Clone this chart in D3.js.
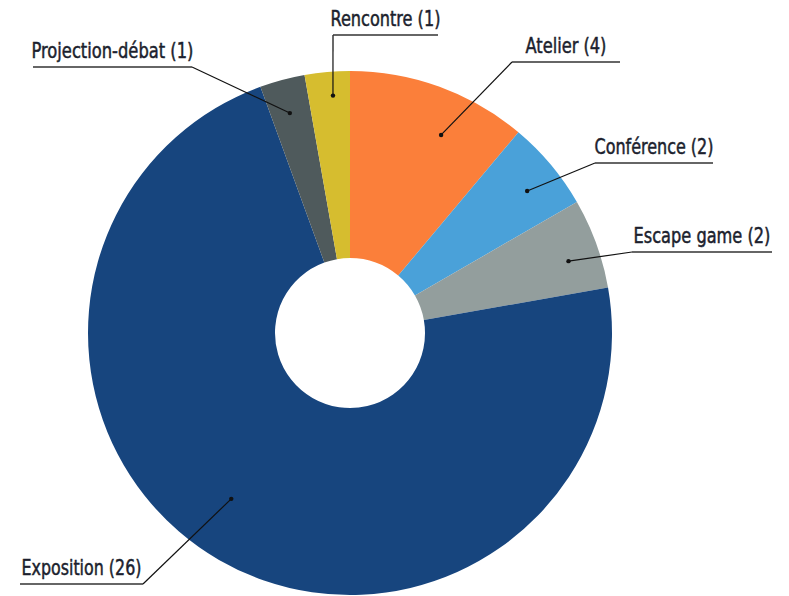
<!DOCTYPE html>
<html>
<head>
<meta charset="utf-8">
<script src="https://cdn.jsdelivr.net/npm/d3@7"></script>
<style>
body { margin: 0; background: #fff; }
text { font-family: "DejaVu Sans Condensed", "Liberation Sans Narrow", sans-serif; }
</style>
</head>
<body>
<svg id="chart"></svg>
<script>
// données
var categories = ["Atelier", "Conférence", "Escape game", "Exposition", "Projection-débat", "Rencontre"]
var values = [4, 2, 2, 26, 1, 1]
var colors = ["#fb7f3a", "#4aa1d9", "#939e9d", "#17457e", "#4f5a5c", "#d6bd2f"]

// placement des étiquettes (soulignement x0, x1, y ; largeur du texte tw ; décalage du point da/dr)
var labelPos = [
    { x0: 512, x1: 620, y: 62, tw: 81, da: 4.7, dr: 218 },
    { x0: 595, x1: 713, y: 163, tw: 119, da: 1.3, dr: 227 },
    { x0: 632, x1: 772, y: 252, tw: 137, da: 1.8, dr: 230 },
    { x0: 20, x1: 143, y: 584, tw: 120, da: 5.6, dr: 204 },
    { x0: 33, x1: 192, y: 67, tw: 162, da: -0.3, dr: 228 },
    { x0: 333, x1: 438, y: 35, tw: 110, da: 0.9, dr: 238 }
]

var width = 789,
    height = 596
var cx = 350,
    cy = 333,
    rOuter = 262,
    rInner = 75

var svg = d3.select("#chart")
    .attr("width", width)
    .attr("height", height)

var data = categories.map(function (c, i) {
    return { name: c, value: values[i], color: colors[i], pos: labelPos[i] }
})

var pie = d3.pie()
    .sort(null)
    .value(function (d) { return d.value })

var arc = d3.arc()
    .innerRadius(rInner)
    .outerRadius(rOuter)

var g = svg.append("g")
    .attr("transform", "translate(" + cx + "," + cy + ")")

var arcs = pie(data)

g.selectAll("path.slice")
    .data(arcs)
    .enter().append("path")
    .attr("class", "slice")
    .attr("d", arc)
    .attr("fill", function (d) { return d.data.color })

// lignes de rappel
var labels = svg.append("g")
arcs.forEach(function (d) {
    var p = d.data.pos
    var a = (d.startAngle + d.endAngle) / 2 + p.da * Math.PI / 180
    var px = cx + p.dr * Math.sin(a),
        py = cy - p.dr * Math.cos(a)
    // extrémité la plus proche du point
    var ex = Math.abs(p.x0 - px) < Math.abs(p.x1 - px) ? p.x0 : p.x1
    labels.append("line")
        .attr("x1", px).attr("y1", py)
        .attr("x2", ex).attr("y2", p.y)
        .attr("stroke", "#111")
        .attr("stroke-width", 1.2)
    labels.append("line")
        .attr("x1", p.x0).attr("y1", p.y)
        .attr("x2", p.x1).attr("y2", p.y)
        .attr("stroke", "#333")
        .attr("stroke-width", 1.6)
    labels.append("circle")
        .attr("cx", px).attr("cy", py)
        .attr("r", 2.2)
        .attr("fill", "#111")
    var t = labels.append("text")
        .attr("x", 0)
        .attr("y", 0)
        .attr("font-size", 22)
        .attr("fill", "#1c1f2e")
        .attr("stroke", "#1c1f2e")
        .attr("stroke-width", 0.5)
        .text(d.data.name + " (" + d.data.value + ")")
    // compression horizontale pour imiter la police étroite
    var w = t.node().getComputedTextLength()
    var sx = p.tw / w
    var tx = (p.x0 + p.x1) / 2 - p.tw / 2
    t.attr("transform", "translate(" + tx + "," + (p.y - 9) + ") scale(" + sx + ",1)")
})
</script>
</body>
</html>
